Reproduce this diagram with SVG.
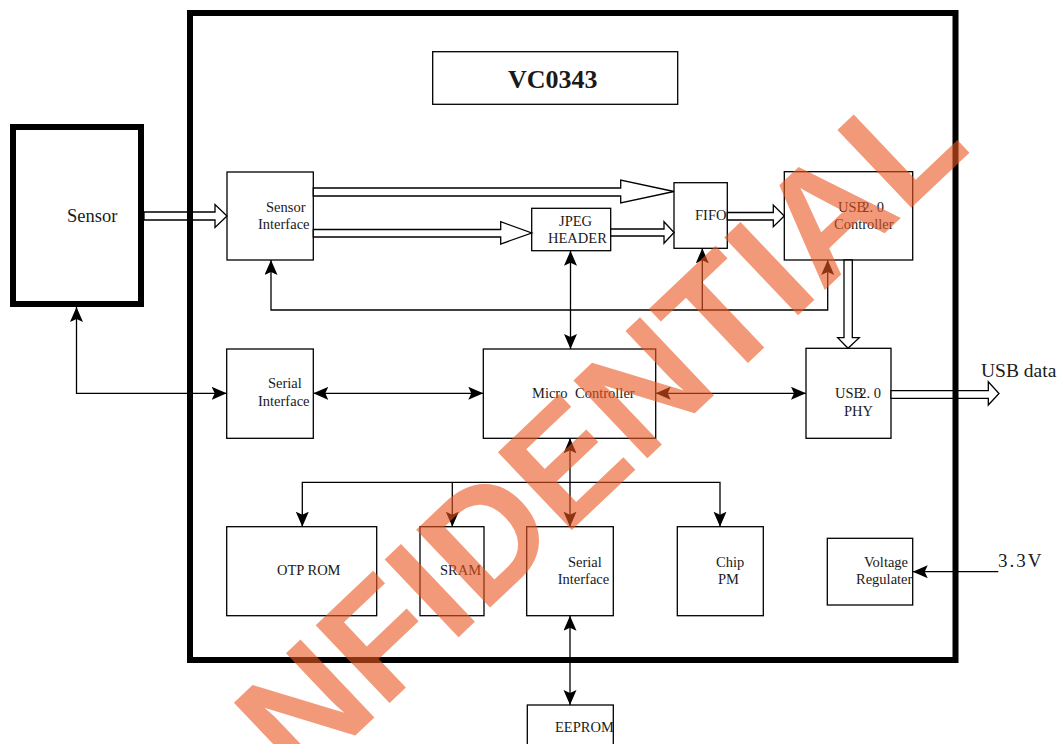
<svg xmlns="http://www.w3.org/2000/svg" width="1057" height="744" viewBox="0 0 1057 744">
<defs>
<style>
.box{fill:#fff;stroke:#000;stroke-width:1.3}
.t{font-family:"Liberation Serif","Times New Roman",serif;font-size:14.5px;fill:#1a1a1a}
.ln{fill:none;stroke:#000;stroke-width:1.3}
.hol{fill:#fff;stroke:#000;stroke-width:1.3;stroke-linejoin:miter}
.wm{font-family:"Liberation Sans",Arial,sans-serif;font-weight:bold;font-size:156px;fill:#EB5721;opacity:0.6}
</style>
<marker id="ah" markerUnits="userSpaceOnUse" markerWidth="16" markerHeight="14" refX="15" refY="6.5" orient="auto-start-reverse">
<path d="M0,0 L15,6.5 L0,13 L3,6.5 z" fill="#000"/>
</marker>
</defs>
<rect width="1057" height="744" fill="#fff"/>

<g id="sensor">
<rect x="13" y="127" width="128" height="177" fill="#fff" stroke="#000" stroke-width="6"/>
<text class="t" x="67" y="222" style="font-size:18.5px">Sensor</text>
</g>
<g id="title">
<rect class="box" x="432.7" y="51.7" width="245" height="52.6"/>
<text class="t" x="508" y="88" style="font-size:26px;font-weight:bold">VC0343</text>
</g>
<g id="sensor-interface">
<rect class="box" x="227" y="172" width="86.3" height="88"/>
<text class="t" x="266" y="212">Sensor</text>
<text class="t" x="258" y="228.5">Interface</text>
</g>
<g id="jpeg-header">
<rect class="box" x="531.7" y="208.3" width="79" height="42.4"/>
<text class="t" x="559" y="225.7">JPEG</text>
<text class="t" x="548" y="243.3">HEADER</text>
</g>
<g id="fifo">
<rect class="box" x="674" y="182.7" width="53.3" height="65.6"/>
<text class="t" x="695" y="220">FIFO</text>
</g>
<g id="usb-controller">
<rect class="box" x="784.3" y="171.7" width="128.4" height="88.3"/>
<text class="t" x="838" y="211.7">USB<tspan dx="-4">2. 0</tspan></text>
<text class="t" x="834" y="229.3">Controller</text>
</g>
<g id="usb-phy">
<rect class="box" x="806" y="348.3" width="85" height="90"/>
<text class="t" x="835" y="398">USB<tspan dx="-4">2. 0</tspan></text>
<text class="t" x="844" y="416">PHY</text>
</g>
<g id="serial-interface-1">
<rect class="box" x="226.7" y="349" width="86.6" height="89.3"/>
<text class="t" x="268" y="388">Serial</text>
<text class="t" x="258" y="406">Interface</text>
</g>
<g id="micro-controller">
<rect class="box" x="483.3" y="349" width="172.4" height="89.3"/>
<text class="t" x="532" y="398.3" style="word-spacing:4px">Micro Controller</text>
</g>
<g id="otp-rom">
<rect class="box" x="226.7" y="526.7" width="150" height="89"/>
<text class="t" x="277" y="575">OTP ROM</text>
</g>
<g id="sram">
<rect class="box" x="420" y="526.7" width="64" height="89"/>
<text class="t" x="440" y="575">SRAM</text>
</g>
<g id="serial-interface-2">
<rect class="box" x="526.7" y="526.7" width="86.6" height="89"/>
<text class="t" x="568" y="566.7">Serial</text>
<text class="t" x="557.7" y="584">Interface</text>
</g>
<g id="chip-pm">
<rect class="box" x="677.3" y="526.7" width="86" height="89"/>
<text class="t" x="716" y="566.7">Chip</text>
<text class="t" x="718" y="584.3">PM</text>
</g>
<g id="voltage-regulater">
<rect class="box" x="827.3" y="538.3" width="85.4" height="66.7"/>
<text class="t" x="864" y="566.7">Voltage</text>
<text class="t" x="856" y="584">Regulater</text>
</g>
<g id="eeprom">
<rect class="box" x="527.3" y="705" width="86" height="60"/>
<text class="t" x="555" y="731.7">EEPROM</text>
</g>
<g id="usb-data-label">
<text class="t" x="981" y="376.7" style="font-size:19.5px">USB data</text>
</g>
<g id="v33-label">
<text class="t" x="998" y="566.7" style="font-size:19px;letter-spacing:2px">3.3V</text>
</g>

<g id="connectors">
<polygon class="hol" points="144,212 215,212 215,204.5 227,216 215,227.5 215,220 144,220"/>
<polygon class="hol" points="313.3,188 620.7,188 620.7,180 674,191.5 620.7,203 620.7,196 313.3,196"/>
<polygon class="hol" points="313.3,229.5 500.7,229.5 500.7,221.7 531.7,233 500.7,244 500.7,237 313.3,237"/>
<polygon class="hol" points="610.7,229 664,229 664,221.7 674,232.5 664,243.3 664,236 610.7,236"/>
<polygon class="hol" points="727.3,212.5 773.3,212.5 773.3,205 784.3,216 773.3,226.7 773.3,220 727.3,220"/>
<polygon class="hol" points="844,260 844,337.7 837.7,337.7 848,348.3 859.3,337.7 852.3,337.7 852.3,260"/>
<polygon class="hol" points="891,390.7 988.3,390.7 988.3,381.7 999,393.5 988.3,405 988.3,398.3 891,398.3"/>
<path class="ln" d="M76.5,307 V393.3 H226.7" marker-start="url(#ah)" marker-end="url(#ah)"/>
<path class="ln" d="M313.3,393.3 H483.3" marker-start="url(#ah)" marker-end="url(#ah)"/>
<path class="ln" d="M655.7,393.3 H806" marker-start="url(#ah)" marker-end="url(#ah)"/>
<path class="ln" d="M570.5,250.7 V349" marker-start="url(#ah)" marker-end="url(#ah)"/>
<path class="ln" d="M570,438.3 V526.7" marker-start="url(#ah)" marker-end="url(#ah)"/>
<path class="ln" d="M570,615.7 V705" marker-start="url(#ah)" marker-end="url(#ah)"/>
<path class="ln" d="M271,260 V310 H827.7 V260" marker-start="url(#ah)" marker-end="url(#ah)"/>
<path class="ln" d="M702.3,310 V248.3" marker-end="url(#ah)"/>
<path class="ln" d="M302.3,526.7 V482.3 H720 V526.7" marker-start="url(#ah)" marker-end="url(#ah)"/>
<path class="ln" d="M452.3,482.3 V526.7" marker-end="url(#ah)"/>
<path class="ln" d="M998.3,571.7 H912.7" marker-end="url(#ah)"/>
</g>

<g id="vc0343-chip">
<rect x="190" y="13" width="765.5" height="647" fill="none" stroke="#000" stroke-width="6"/>
</g>

<g id="watermark">
<text class="wm" transform="translate(598,428) rotate(-43.5)" x="0" y="56" text-anchor="middle">NFIDENTIAL</text>
</g>
</svg>
